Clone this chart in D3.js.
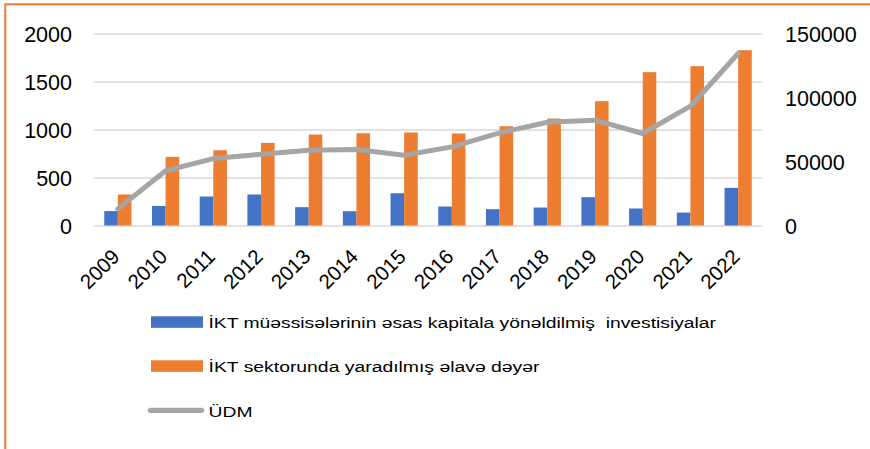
<!DOCTYPE html>
<html><head><meta charset="utf-8">
<script src="https://cdn.jsdelivr.net/npm/d3@7"></script>
<style>html,body{margin:0;padding:0;background:#fff;}svg{display:block;}</style>
</head><body>
<svg id="chart" width="870" height="449"></svg>
<script>
const years = ["2009","2010","2011","2012","2013","2014","2015","2016","2017","2018","2019","2020","2021","2022"];
const investments = [150, 204, 302, 323, 191, 149, 336, 198, 170, 187, 295, 177, 135, 392];
const valueAdded = [323, 715, 784, 861, 948, 961, 969, 958, 1034, 1114, 1295, 1597, 1660, 1826];
const gdp = [13000, 42800, 52300, 55700, 58800, 59400, 54900, 61400, 72400, 80700, 82300, 71900, 93200, 134400];
const leftTicks = [0, 500, 1000, 1500, 2000];
const rightTicks = [0, 50000, 100000, 150000];
const seriesNames = ["İKT müəssisələrinin əsas kapitala yönəldilmiş  investisiyalar", "İKT sektorunda yaradılmış əlavə dəyər", "ÜDM"];
const colors = ["#4472c4", "#ed7d31", "#a5a5a5"];

(function () {
const svg = d3.select("#chart");
const font = "'Liberation Sans', Arial, sans-serif";
const pL = 94, pR = 762, pT = 33.5, pB = 225.5;

// border
svg.append("rect").attr("x", 5.3).attr("y", 4.3).attr("width", 1000).attr("height", 1000)
  .attr("fill", "none").attr("stroke", "#ed7d31").attr("stroke-width", 2);

const x = d3.scaleBand().domain(years).range([pL, pR]).paddingInner(0.43).paddingOuter(0.215);
const x1 = d3.scaleBand().domain([0, 1]).range([0, x.bandwidth()]);
const yL = d3.scaleLinear().domain([0, 2000]).range([pB, pT]);
const yR = d3.scaleLinear().domain([0, 150000]).range([pB, pT]);

// gridlines
const gl = d3.axisLeft(yL).tickValues(leftTicks).tickSize(-(pR - pL)).tickFormat("");
const gg = svg.append("g").attr("transform", `translate(${pL},0)`).call(gl);
gg.select(".domain").remove();
gg.selectAll(".tick line").attr("stroke", "#d9d9d9").attr("stroke-width", 1.4);

// left axis labels
const al = d3.axisLeft(yL).tickValues(leftTicks).tickSize(0).tickPadding(0).tickFormat(d3.format("d"));
const ga = svg.append("g").attr("transform", "translate(72,0)").call(al);
ga.select(".domain").remove();
ga.selectAll(".tick text").attr("font-family", font).attr("font-size", "21.5px").attr("fill", "#000").attr("dy", "0.36em");

// right axis labels
const ar = d3.axisRight(yR).tickValues(rightTicks).tickSize(0).tickPadding(0).tickFormat(d3.format("d"));
const gr = svg.append("g").attr("transform", "translate(785,0)").call(ar);
gr.select(".domain").remove();
gr.selectAll(".tick text").attr("font-family", font).attr("font-size", "21.5px").attr("fill", "#000").attr("dy", "0.36em");

// bars
const barData = [investments, valueAdded];
barData.forEach((arr, si) => {
  svg.append("g").selectAll("rect").data(arr).join("rect")
    .attr("x", (d, i) => x(years[i]) + x1(si))
    .attr("width", x1.bandwidth())
    .attr("y", d => yL(d))
    .attr("height", d => yL(0) - yL(d))
    .attr("fill", colors[si]);
});

// line
const line = d3.line().x((d, i) => x(years[i]) + x.bandwidth() / 2).y(d => yR(d));
svg.append("path").datum(gdp).attr("d", line).attr("fill", "none")
  .attr("stroke", colors[2]).attr("stroke-width", 5).attr("stroke-linejoin", "round").attr("stroke-linecap", "round");

// x labels
svg.append("g").selectAll("text").data(years).join("text")
  .attr("transform", d => `translate(${x(d) + x.bandwidth() / 2 + 3},258) rotate(-45)`)
  .attr("text-anchor", "end").attr("font-family", font).attr("font-size", "20.5px").attr("fill", "#000")
  .text(d => d);

// legend
const legY = [328.3, 372.3, 416.8];
const legLen = [507.5, 331, 44];
const lg = svg.append("g");
seriesNames.forEach((name, i) => {
  if (i < 2) {
    lg.append("rect").attr("x", 151).attr("y", legY[i] - 12).attr("width", 52).attr("height", 11.5).attr("fill", colors[i]);
  } else {
    lg.append("line").attr("x1", 150.5).attr("x2", 201.5).attr("y1", legY[i] - 6.5).attr("y2", legY[i] - 6.5)
      .attr("stroke", colors[i]).attr("stroke-width", 5.3).attr("stroke-linecap", "round");
  }
  lg.append("text").attr("x", 208.5).attr("y", legY[i]).attr("font-family", font).attr("font-size", "15.5px")
    .attr("fill", "#000").style("white-space", "pre")
    .attr("textLength", legLen[i]).attr("lengthAdjust", "spacingAndGlyphs").text(name);
});
})();
</script>
</body></html>
